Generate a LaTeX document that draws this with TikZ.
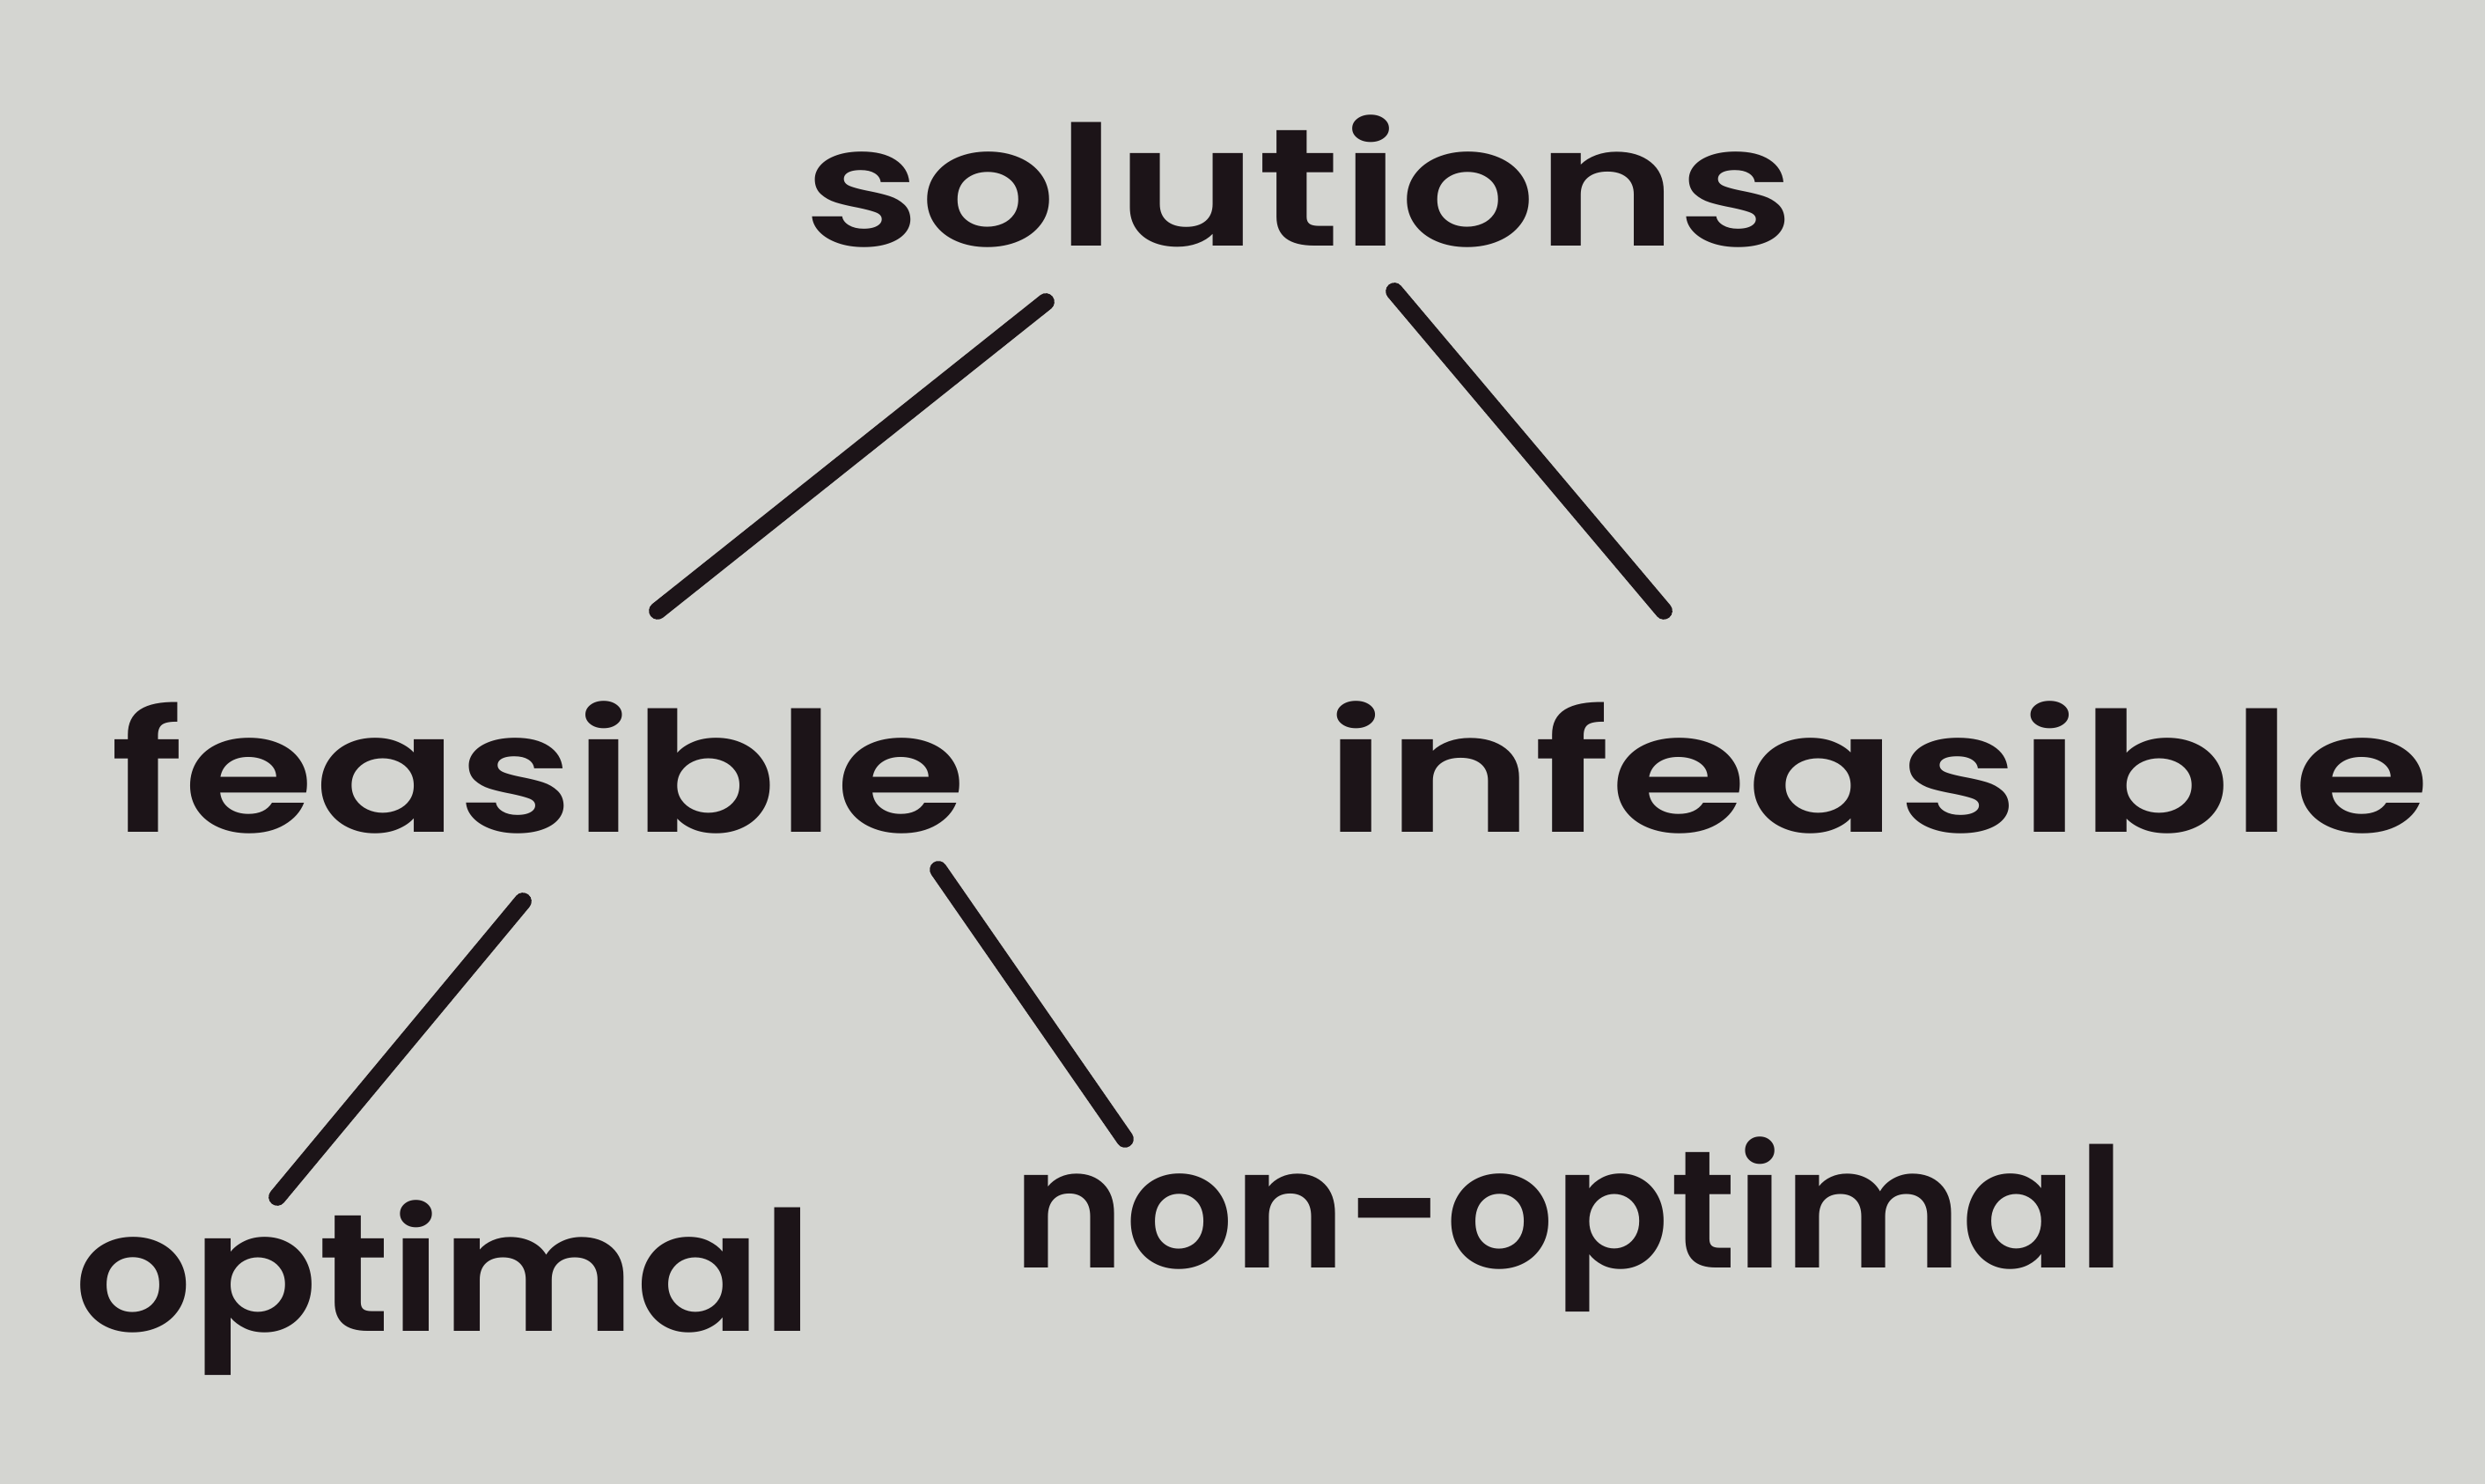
\documentclass[tikz,border=0pt]{standalone}
\usepackage{fontspec}
\setmainfont{Poppins}[UprightFont=* Medium,BoldFont=* SemiBold]
\usepackage{xcolor}
\usetikzlibrary{calc}
\definecolor{paper}{RGB}{212,213,209}
\definecolor{ink}{RGB}{28,20,24}

\begin{document}
\begin{tikzpicture}[font=\fontsize{54}{60}\selectfont\bfseries,lbl/.style={text=ink,inner sep=0,anchor=base},edge/.style={draw=ink,line width=5.6pt,line cap=round}]
\fill[paper] (0,0) rectangle (28.23,16.86); \useasboundingbox (0,0) rectangle (28.23,16.86);
\node[lbl] (sol) at (14.76,14.06){\scalebox{1.28}[1]{solutions}};
\node[lbl] (fea) at (6.12,7.40){\scalebox{1.27}[1]{feasible}}; \node[lbl] (inf) at (21.33,7.40){\scalebox{1.33}[1]{infeasible}};
\node[lbl] (opt) at (5.04,1.73){\scalebox{1.11}[1]{optimal}}; \node[lbl] (non) at (17.82,2.45){\scalebox{1.02}[1]{non-optimal}};
\draw[edge] ([shift={(-2.88,-0.63)}]sol.base)--([shift={(1.35,2.52)}]fea.base);
\draw[edge] ([shift={(1.08,-0.51)}]sol.base)--([shift={(-2.43,2.52)}]inf.base);
\draw[edge] ([shift={(-0.18,-0.78)}]fea.base)--([shift={(-1.89,1.53)}]opt.base);
\draw[edge] ([shift={(4.54,-0.42)}]fea.base)--([shift={(-5.04,1.47)}]non.base);
\end{tikzpicture}
\end{document}
